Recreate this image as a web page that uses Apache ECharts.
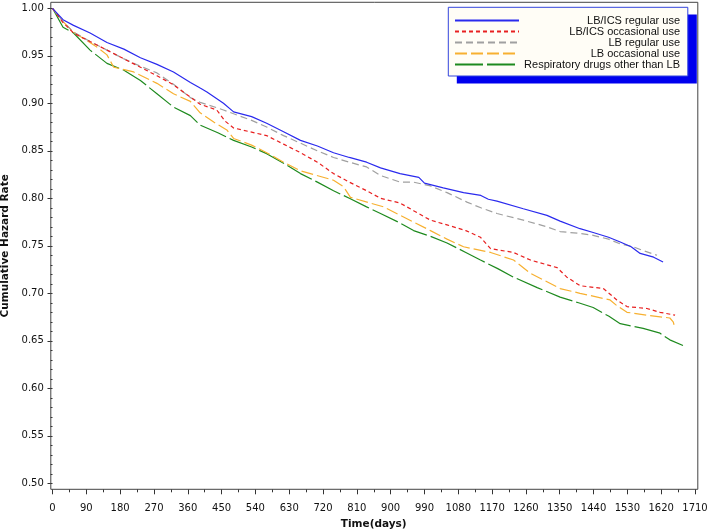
<!DOCTYPE html>
<html><head><meta charset="utf-8">
<script src="https://cdn.jsdelivr.net/npm/echarts@6/dist/echarts.min.js"></script>
<style>html,body{margin:0;padding:0;background:#fff}#c{width:709px;height:531px}</style>
</head><body><div id="c"></div>
<script>
// Series names (legend order)
const seriesNames = ['LB/ICS regular use', 'LB/ICS occasional use', 'LB regular use', 'LB occasional use', 'Respiratory drugs other than LB'];

// LB/ICS regular use
const blueDays = [0, 28, 56, 100, 145, 190, 234, 278, 322, 367, 393, 411, 455, 482, 530, 570, 615, 660, 705, 748, 790, 836, 873, 925, 975, 990, 1040, 1094, 1140, 1160, 1183, 1253, 1316, 1351, 1404, 1439, 1480, 1511, 1540, 1564, 1600, 1625];
const blueVals = [1.000, 0.988, 0.982, 0.974, 0.964, 0.957, 0.948, 0.941, 0.933, 0.922, 0.916, 0.912, 0.900, 0.891, 0.886, 0.879, 0.870, 0.861, 0.855, 0.848, 0.843, 0.838, 0.832, 0.826, 0.822, 0.816, 0.811, 0.806, 0.803, 0.799, 0.797, 0.789, 0.782, 0.776, 0.768, 0.764, 0.759, 0.754, 0.749, 0.742, 0.738, 0.733];

// LB/ICS occasional use
const redDays = [0, 28, 56, 100, 145, 189, 234, 278, 320, 348, 393, 437, 460, 482, 570, 615, 660, 705, 748, 790, 836, 873, 925, 961, 1006, 1050, 1100, 1139, 1166, 1227, 1272, 1343, 1369, 1404, 1466, 1502, 1529, 1582, 1617, 1657];
const redVals = [1.000, 0.985, 0.974, 0.965, 0.956, 0.947, 0.938, 0.929, 0.920, 0.912, 0.899, 0.893, 0.881, 0.874, 0.866, 0.857, 0.848, 0.838, 0.826, 0.817, 0.808, 0.800, 0.795, 0.787, 0.777, 0.772, 0.766, 0.759, 0.747, 0.743, 0.735, 0.727, 0.717, 0.708, 0.705, 0.693, 0.686, 0.684, 0.680, 0.677];

// LB regular use
const grayDays = [0, 28, 56, 100, 145, 189, 234, 278, 322, 367, 393, 455, 482, 530, 570, 615, 660, 705, 748, 790, 836, 873, 925, 961, 1006, 1050, 1103, 1140, 1183, 1253, 1316, 1351, 1404, 1439, 1480, 1511, 1545, 1572, 1609];
const grayVals = [1.000, 0.986, 0.975, 0.965, 0.956, 0.947, 0.939, 0.932, 0.920, 0.906, 0.901, 0.893, 0.889, 0.882, 0.875, 0.866, 0.858, 0.850, 0.843, 0.838, 0.833, 0.824, 0.817, 0.817, 0.813, 0.806, 0.796, 0.790, 0.784, 0.777, 0.770, 0.765, 0.763, 0.761, 0.757, 0.752, 0.749, 0.745, 0.740];

// LB occasional use
const orangeDays = [0, 28, 56, 119, 145, 163, 216, 278, 322, 367, 393, 430, 464, 482, 530, 570, 615, 660, 748, 775, 793, 881, 961, 1006, 1050, 1094, 1166, 1227, 1272, 1351, 1404, 1484, 1502, 1529, 1582, 1643, 1652, 1657];
const orangeVals = [1.000, 0.986, 0.975, 0.959, 0.951, 0.938, 0.933, 0.921, 0.910, 0.902, 0.890, 0.880, 0.872, 0.863, 0.856, 0.848, 0.838, 0.829, 0.819, 0.812, 0.801, 0.791, 0.775, 0.766, 0.757, 0.749, 0.743, 0.735, 0.721, 0.705, 0.700, 0.693, 0.687, 0.680, 0.677, 0.674, 0.670, 0.663];

// Respiratory drugs other than LB
const greenDays = [0, 28, 56, 100, 145, 189, 234, 278, 322, 367, 393, 440, 482, 530, 570, 615, 660, 705, 748, 790, 836, 873, 920, 961, 1006, 1050, 1100, 1139, 1185, 1227, 1290, 1351, 1400, 1439, 1480, 1511, 1572, 1617, 1643, 1678];
const greenVals = [1.000, 0.980, 0.974, 0.956, 0.942, 0.935, 0.924, 0.910, 0.896, 0.887, 0.877, 0.869, 0.861, 0.854, 0.847, 0.837, 0.826, 0.817, 0.808, 0.800, 0.791, 0.784, 0.775, 0.766, 0.760, 0.753, 0.743, 0.735, 0.726, 0.717, 0.706, 0.696, 0.690, 0.685, 0.676, 0.668, 0.663, 0.658, 0.651, 0.645];

// Axis ticks
const xTickInterval = 90;
const xMin = 0, xMax = 1710;
const yMin = 0.50, yMax = 1.00, yTickInterval = 0.05;

const zip = (d, v) => d.map((x, i) => [x, v[i]]);
const colors = ['#2a2aee', '#e82020', '#a0a0a0', '#f7b030', '#1e8a1e'];
const dashes = [null, [4, 3], [7, 4], [12, 4], [28, 4]];
const allData = [zip(blueDays, blueVals), zip(redDays, redVals), zip(grayDays, grayVals), zip(orangeDays, orangeVals), zip(greenDays, greenVals)];

const chart = echarts.init(document.getElementById('c'), null, {renderer: 'canvas'});
const tickFont = 'DejaVu Sans';
chart.setOption({
  animation: false,
  backgroundColor: '#fff',
  grid: {left: 52.5, right: 14, top: 8.3, bottom: 47.7, containLabel: false, outerBoundsMode: 'none'},
  legend: {
    data: seriesNames,
    orient: 'vertical',
    left: 448, top: 7.3,
    padding: [7.75, 7, 4.5, 6],
    itemWidth: 64, itemHeight: 11.3, itemGap: 0,
    backgroundColor: 'transparent',
    borderWidth: 0,
    z: 20,
    itemStyle: {opacity: 0},
    formatter: n => '{a|' + n + '}',
    textStyle: {
      rich: {a: {width: 156, align: 'right', fontFamily: 'Liberation Sans', fontSize: 11, color: '#111', lineHeight: 11.3}}
    }
  },
  xAxis: {
    type: 'value', min: xMin, max: xMax, interval: xTickInterval,
    offset: 6,
    name: 'Time(days)', nameLocation: 'middle', nameGap: 29,
    nameTextStyle: {fontFamily: 'DejaVu Sans', fontWeight: 'bold', fontSize: 10.5, color: '#111'},
    axisLine: {show: false},
    axisTick: {show: true, length: 5, lineStyle: {color: '#333'}},
    minorTick: {show: true, splitNumber: 2, length: 3, lineStyle: {color: '#333'}},
    axisLabel: {fontFamily: tickFont, fontSize: 10, color: '#111', margin: 14, formatter: v => String(v)},
    splitLine: {show: false}
  },
  yAxis: {
    type: 'value', min: yMin, max: yMax, interval: yTickInterval,
    offset: 1.7,
    name: 'Cumulative Hazard Rate', nameLocation: 'middle', nameGap: 32,
    nameTextStyle: {fontFamily: 'DejaVu Sans', fontWeight: 'bold', fontSize: 10.5, color: '#111'},
    axisLine: {show: false},
    axisTick: {show: true, length: 5, lineStyle: {color: '#333'}},
    minorTick: {show: true, splitNumber: 5, length: 2, lineStyle: {color: '#333'}},
    axisLabel: {fontFamily: tickFont, fontSize: 10, color: '#111', margin: 7, formatter: v => v.toFixed(2)},
    splitLine: {show: false}
  },
  graphic: [
    {type: 'rect', z: 100, silent: true,
     shape: {x: 50.8, y: 2.3, width: 647, height: 487},
     style: {fill: 'none', stroke: '#444', lineWidth: 1}},
    {type: 'rect', z: 15, silent: true,
     shape: {x: 456.8, y: 14.6, width: 240, height: 69},
     style: {fill: '#0000ee', stroke: 'none'}},
    {type: 'rect', z: 16, silent: true,
     shape: {x: 448.3, y: 7.3, width: 239.5, height: 68.7},
     style: {fill: '#fffdf6', stroke: '#3344dd', lineWidth: 1}}
  ],
  series: seriesNames.map((name, i) => ({
    name, type: 'line', data: allData[i], showSymbol: false, symbol: 'none',
    z: 10 - i,
    lineStyle: {color: colors[i], width: 1.2, type: dashes[i] || 'solid'},
    itemStyle: {color: colors[i]}
  }))
});
</script></body></html>
